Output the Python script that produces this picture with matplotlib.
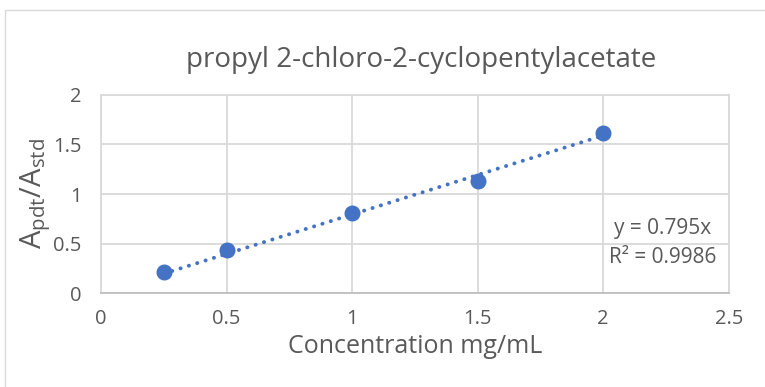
import matplotlib.pyplot as plt
import numpy as np
from matplotlib.patches import Rectangle

# Calibration data: concentration vs. peak area ratio
concentration = [0.25, 0.5, 1.0, 1.5, 2.0]
area_ratio = [0.217, 0.436, 0.811, 1.133, 1.616]
slope = 0.795
r_squared = 0.9986

x_ticks = [0, 0.5, 1, 1.5, 2, 2.5]
y_ticks = [0, 0.5, 1, 1.5, 2]

blue = '#4472C4'
text_gray = '#595959'
grid_gray = '#D9D9D9'

plt.rcParams['font.family'] = ['Open Sans', 'DejaVu Sans']

fig = plt.figure(figsize=(7.65, 3.87), dpi=100)
ax = fig.add_axes([0.132, 0.242, 0.8206, 0.513])

# chart border
fig.patches.append(Rectangle((5 / 765, -0.1), 1.2, (387 - 10) / 387 + 0.1,
                             transform=fig.transFigure, fill=False,
                             edgecolor=grid_gray, linewidth=1.0))

# trendline through origin
fit_x = np.array([concentration[0], concentration[-1]])
ax.plot(fit_x, slope * fit_x, linestyle=(0, (0.05, 2.2)), color=blue,
        linewidth=2.8, dash_capstyle='round', zorder=2)
ax.plot(concentration, area_ratio, 'o', color=blue, markersize=10.5, zorder=3)

ax.set_xlim(0, 2.5)
ax.set_ylim(0, 2)
ax.set_xticks(x_ticks)
ax.set_yticks(y_ticks)
ax.set_xticklabels([f'{t:g}' for t in x_ticks])
ax.set_yticklabels([f'{t:g}' for t in y_ticks])
ax.tick_params(length=0, labelsize=14.5, colors=text_gray, pad=11)
ax.tick_params(axis='y', pad=14)
ax.grid(True, color=grid_gray, linewidth=1.3)
for side in ['top', 'right', 'left']:
    ax.spines[side].set_color(grid_gray)
    ax.spines[side].set_linewidth(1.3)
ax.spines['bottom'].set_color('#BFBFBF')
ax.spines['bottom'].set_linewidth(1.3)

ax.set_title('propyl 2-chloro-2-cyclopentylacetate', fontsize=20,
             color=text_gray, pad=20, x=0.51)
ax.set_xlabel('Concentration mg/mL', fontsize=18, color=text_gray, labelpad=4)
ax.set_ylabel(r'$\mathregular{A_{pdt}/A_{std}}$', fontsize=21,
              color=text_gray, labelpad=0)

ax.text(2.235, 0.657, f'y = {slope}x', fontsize=15, color=text_gray,
        ha='center', va='center')
ax.text(2.235, 0.365, f'R² = {r_squared}', fontsize=15, color=text_gray,
        ha='center', va='center')

fig.savefig('out.png', dpi=100, facecolor='white')
